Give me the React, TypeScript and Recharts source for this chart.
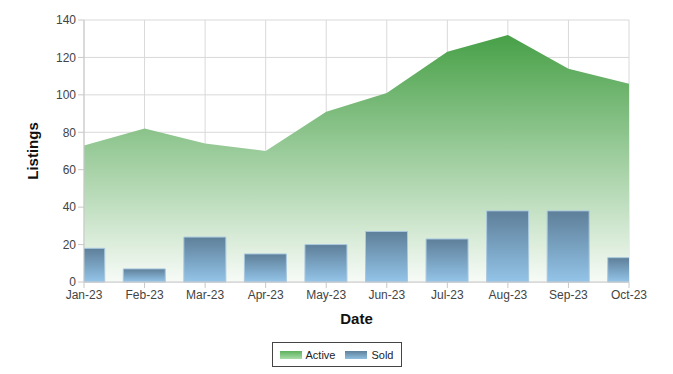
import { ComposedChart, Area, Bar, XAxis, YAxis, CartesianGrid, Legend } from 'recharts';

const months = ['Jan-23', 'Feb-23', 'Mar-23', 'Apr-23', 'May-23', 'Jun-23', 'Jul-23', 'Aug-23', 'Sep-23', 'Oct-23'];
const active = [73, 82, 74, 70, 91, 101, 123, 132, 114, 106];
const sold = [18, 7, 24, 15, 20, 27, 23, 38, 38, 13];
const yTicks = [0, 20, 40, 60, 80, 100, 120, 140];

const data = months.map((m, i) => ({ idx: i, month: m, active: active[i], sold: sold[i] }));
const xTicks = months.map((_, i) => i);

const font = '"Liberation Sans", Arial, sans-serif';

function LegendBox() {
  return (
    <div style={{ display: 'flex', justifyContent: 'center' }}>
      <div
        style={{
          display: 'flex',
          alignItems: 'center',
          border: '1px solid #444',
          height: 23,
          padding: '0 7px',
          fontFamily: font,
          fontSize: 11,
          color: '#222',
        }}
      >
        <span style={{ width: 22, height: 8, background: 'linear-gradient(#5cb25c, #a8dca8)', marginRight: 4 }} />
        <span style={{ marginRight: 10 }}>Active</span>
        <span style={{ width: 22, height: 8, background: 'linear-gradient(#5f819c, #8fbfe0)', marginRight: 4 }} />
        <span>Sold</span>
      </div>
    </div>
  );
}

export default function App() {
  return (
    <div style={{ position: 'absolute', left: 0, top: 0, background: '#fff' }}>
      <ComposedChart width={673} height={374} data={data} margin={{ top: 20, right: 44, left: 0, bottom: 7 }}>
        <defs>
          <linearGradient id="activeFill" x1="0" y1="0" x2="0" y2="1">
            <stop offset="0%" stopColor="#47a047" />
            <stop offset="100%" stopColor="#f7fbf7" />
          </linearGradient>
          <linearGradient id="soldFill" x1="0" y1="0" x2="0" y2="1">
            <stop offset="0%" stopColor="#5e7f99" />
            <stop offset="100%" stopColor="#93c4e8" />
          </linearGradient>
        </defs>
        <CartesianGrid stroke="#d9d9d9" />
        <XAxis
          dataKey="idx"
          type="number"
          domain={[0, 9]}
          ticks={xTicks}
          allowDataOverflow
          tickFormatter={(v: number) => months[v]}
          height={60}
          stroke="#c8c8c8"
          tick={{ fill: '#444', fontSize: 12, fontFamily: font }}
          label={{ value: 'Date', position: 'insideBottom', offset: 18, style: { fontWeight: 'bold', fontSize: 15, fill: '#111', fontFamily: font } }}
        />
        <YAxis
          domain={[0, 140]}
          ticks={yTicks}
          width={84}
          stroke="#c8c8c8"
          tick={{ fill: '#444', fontSize: 12, fontFamily: font }}
          label={{ value: 'Listings', angle: -90, position: 'insideLeft', offset: 33, style: { textAnchor: 'middle', fontWeight: 'bold', fontSize: 15, fill: '#111', fontFamily: font } }}
        />
        <Area dataKey="active" name="Active" type="linear" stroke="none" fill="url(#activeFill)" fillOpacity={1} isAnimationActive={false} />
        <Bar dataKey="sold" name="Sold" barSize={42} fill="url(#soldFill)" stroke="#a9c8df" strokeWidth={1} isAnimationActive={false} />
        <Legend verticalAlign="bottom" content={() => <LegendBox />} wrapperStyle={{ left: 0, width: 673 }} />
      </ComposedChart>
    </div>
  );
}
